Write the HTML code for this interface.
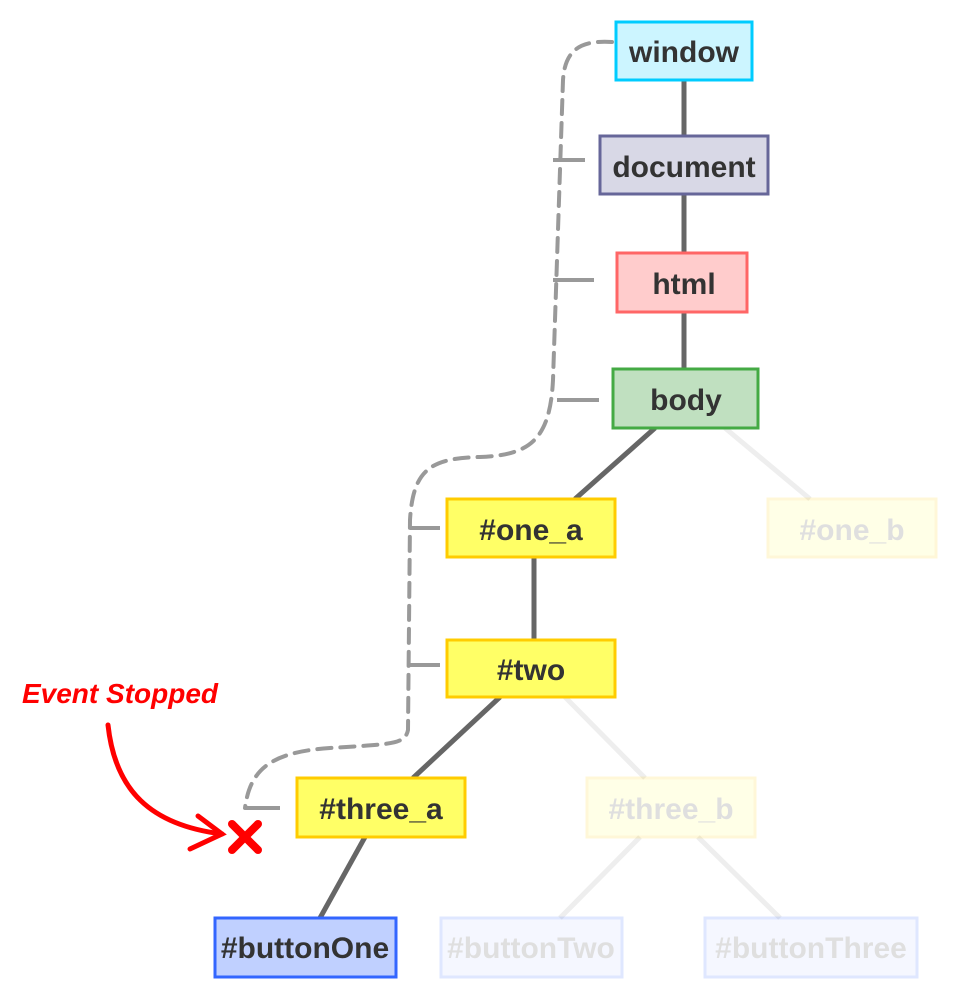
<!DOCTYPE html>
<html><head><style>body{margin:0;background:#fff}svg{display:block}</style></head><body>
<svg width="960" height="1000" viewBox="0 0 960 1000" xmlns="http://www.w3.org/2000/svg" font-family="'Liberation Sans', sans-serif">
<g stroke="#eee" stroke-width="5">
<line x1="725" y1="428" x2="810" y2="499"/><line x1="565" y1="697" x2="645" y2="778"/>
<line x1="640" y1="837" x2="560" y2="918"/><line x1="698" y1="837" x2="780" y2="918"/>
</g>
<g stroke="#666" stroke-width="5">
<line x1="684" y1="80" x2="684" y2="136"/><line x1="684" y1="194" x2="684" y2="253"/><line x1="684" y1="312" x2="684" y2="369"/>
<line x1="655" y1="428" x2="575" y2="499"/><line x1="534" y1="557" x2="534" y2="640"/>
<line x1="500" y1="697" x2="413" y2="778"/><line x1="365" y1="837" x2="320" y2="918"/>
</g>
<path d="M612,42 C580,40 565,50 563,80 L553,380 C550,440 530,455 480,457 C430,458 413,470 410,520 L408,730 C405,745 390,744 330,748 C270,752 250,770 245,808" fill="none" stroke="#999" stroke-width="4" stroke-dasharray="14,9" stroke-linecap="round"/>
<g stroke="#999" stroke-width="4">
<line x1="553" y1="160" x2="585" y2="160"/><line x1="553" y1="280" x2="594" y2="280"/><line x1="557" y1="400" x2="599" y2="400"/>
<line x1="410" y1="528" x2="440" y2="528"/><line x1="410" y1="665" x2="440" y2="665"/><line x1="245" y1="808" x2="280" y2="808"/>
</g>
<g stroke-width="3" font-size="30" font-weight="bold" text-anchor="middle">
<rect x="616" y="22" width="136" height="58" fill="#ccf5ff" stroke="#00ccff"/><text x="684" y="62" fill="#333" stroke="none">window</text>
<rect x="600" y="136" width="168" height="58" fill="#d8d8e6" stroke="#666699"/><text x="684" y="177" fill="#333" stroke="none">document</text>
<rect x="617" y="253" width="130" height="59" fill="#ffcccc" stroke="#ff6666"/><text x="684" y="294" fill="#333" stroke="none">html</text>
<rect x="613" y="369" width="145" height="59" fill="#c0e0c0" stroke="#44aa44"/><text x="686" y="410" fill="#333" stroke="none">body</text>
<rect x="447" y="499" width="168" height="58" fill="#ffff66" stroke="#ffcc00"/><text x="531" y="540" fill="#333" stroke="none">#one_a</text>
<g opacity="0.15"><rect x="768" y="499" width="168" height="58" fill="#ffff66" stroke="#ffcc00"/><text x="852" y="540" fill="#333" stroke="none">#one_b</text></g>
<rect x="447" y="640" width="168" height="57" fill="#ffff66" stroke="#ffcc00"/><text x="531" y="680" fill="#333" stroke="none">#two</text>
<rect x="297" y="778" width="168" height="59" fill="#ffff66" stroke="#ffcc00"/><text x="381" y="819" fill="#333" stroke="none">#three_a</text>
<g opacity="0.15"><rect x="587" y="778" width="168" height="59" fill="#ffff66" stroke="#ffcc00"/><text x="671" y="819" fill="#333" stroke="none">#three_b</text></g>
<rect x="215" y="918" width="181" height="59" fill="#c0d0ff" stroke="#3366ff"/><text x="305" y="958" fill="#333" stroke="none">#buttonOne</text>
<g opacity="0.15"><rect x="441" y="918" width="181" height="59" fill="#c0d0ff" stroke="#3366ff"/><text x="531" y="958" fill="#333" stroke="none">#buttonTwo</text>
<rect x="705" y="918" width="212" height="59" fill="#c0d0ff" stroke="#3366ff"/><text x="811" y="958" fill="#333" stroke="none">#buttonThree</text></g>
</g>
<text x="120" y="703" font-size="28" font-weight="bold" fill="#f00" text-anchor="middle" font-style="italic">Event Stopped</text>
<g stroke="#f00" fill="none" stroke-linecap="round" stroke-width="5">
<path d="M108,725 C115,790 150,825 222,834"/><path d="M198,816 L222,834 L190,849"/>
</g>
<g stroke="#f00" stroke-width="8" stroke-linecap="round">
<line x1="232" y1="824" x2="258" y2="850"/><line x1="258" y1="824" x2="232" y2="850"/>
</g>
</svg>
</body></html>
